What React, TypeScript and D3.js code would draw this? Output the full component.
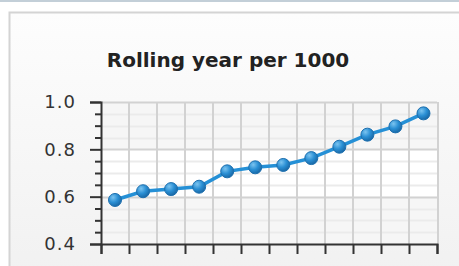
import React, { useRef, useEffect } from "react";
import * as d3 from "d3";

// values
const periods = ["1", "2", "3", "4", "5", "6", "7", "8", "9", "10", "11", "12"];
const values = [0.586, 0.623, 0.632, 0.642, 0.707, 0.724, 0.734, 0.763, 0.811, 0.862, 0.897, 0.952];
const yTicks = [0.4, 0.6, 0.8, 1.0];
const yMinorTicks = [0.45, 0.5, 0.55, 0.65, 0.7, 0.75, 0.85, 0.9, 0.95];
const title = "Rolling year per 1000";

function App() {
  const svgRef = useRef<SVGSVGElement>(null);

  useEffect(() => {
    const svg = d3.select(svgRef.current);
    svg.selectAll("*").remove();

    const width = 459;
    const height = 266;
    const margin = { top: 102, right: 22, bottom: 22, left: 101 };
    const plotW = width - margin.left - margin.right;
    const plotH = height - margin.top - margin.bottom;

    const defs = svg.append("defs");
    const bg = defs.append("linearGradient").attr("id", "panelBg").attr("x1", 0).attr("y1", 0).attr("x2", 0).attr("y2", 1);
    bg.append("stop").attr("offset", "0%").attr("stop-color", "#fdfdfd");
    bg.append("stop").attr("offset", "100%").attr("stop-color", "#f1f1f1");
    const dot = defs.append("radialGradient").attr("id", "dotFill").attr("cx", "35%").attr("cy", "30%").attr("r", "70%");
    dot.append("stop").attr("offset", "0%").attr("stop-color", "#7cc4f0");
    dot.append("stop").attr("offset", "55%").attr("stop-color", "#2a8fd4");
    dot.append("stop").attr("offset", "100%").attr("stop-color", "#1a6aa8");

    // page strip and panel
    svg.append("rect").attr("width", width).attr("height", height).attr("fill", "#ffffff");
    svg.append("rect").attr("width", width).attr("height", 2).attr("fill", "#c3cfd8");
    svg.append("rect")
      .attr("x", 9.5).attr("y", 12.5)
      .attr("width", width).attr("height", height)
      .attr("fill", "url(#panelBg)")
      .attr("stroke", "#d4d4d4").attr("stroke-width", 2);

    svg.append("text")
      .attr("x", 228).attr("y", 67)
      .attr("text-anchor", "middle")
      .attr("font-family", "DejaVu Sans, Verdana, sans-serif")
      .attr("font-weight", "bold")
      .attr("font-size", 20)
      .attr("fill", "#222")
      .text(title);

    const x = d3.scaleBand().domain(periods).range([0, plotW + 0.5]);
    const y = d3.scaleLinear().domain([0.4, 1.0]).range([plotH, 0]);

    const g = svg.append("g").attr("transform", `translate(${margin.left},${margin.top})`);

    // alternating bands
    g.selectAll("rect.band")
      .data([0.4, 0.6, 0.8])
      .enter()
      .append("rect")
      .attr("x", 0)
      .attr("y", (d) => y(d + 0.2))
      .attr("width", plotW)
      .attr("height", (d) => y(d) - y(d + 0.2))
      .attr("fill", (d, i) => (i % 2 === 0 ? "#f6f6f6" : "#ffffff"));

    // minor horizontal grid
    g.selectAll("line.minor")
      .data(yMinorTicks)
      .enter()
      .append("line")
      .attr("x1", 0).attr("x2", plotW)
      .attr("y1", (d) => Math.round(y(d)) + 0.5)
      .attr("y2", (d) => Math.round(y(d)) + 0.5)
      .attr("stroke", "#ebebeb").attr("stroke-width", 2);

    // major horizontal grid
    g.selectAll("line.major")
      .data(yTicks.slice(1))
      .enter()
      .append("line")
      .attr("x1", 0).attr("x2", plotW)
      .attr("y1", (d) => Math.round(y(d)) + 0.5)
      .attr("y2", (d) => Math.round(y(d)) + 0.5)
      .attr("stroke", "#d2d2d2").attr("stroke-width", 2);

    // vertical grid at band edges
    const edges = periods.map((p) => (x(p) as number) + x.bandwidth());
    g.selectAll("line.vgrid")
      .data(edges)
      .enter()
      .append("line")
      .attr("x1", (d) => Math.round(d)).attr("x2", (d) => Math.round(d))
      .attr("y1", 0).attr("y2", plotH)
      .attr("stroke", "#d2d2d2").attr("stroke-width", 2);

    // y axis
    const yAxis = d3.axisLeft(y).tickValues(yTicks).tickFormat(d3.format(".1f")).tickSize(11).tickPadding(14);
    const ya = g.append("g").call(yAxis);
    ya.select(".domain").attr("stroke", "#333").attr("stroke-width", 2);
    ya.selectAll(".tick line").attr("stroke", "#333").attr("stroke-width", 2);
    ya.selectAll("text")
      .attr("font-family", "DejaVu Sans, Verdana, sans-serif")
      .attr("font-size", 18)
      .attr("letter-spacing", 1)
      .attr("fill", "#333");

    const yMinorAxis = d3.axisLeft(y).tickValues(yMinorTicks).tickSize(6).tickFormat(() => "");
    const ym = g.append("g").call(yMinorAxis);
    ym.select(".domain").remove();
    ym.selectAll(".tick line").attr("stroke", "#333").attr("stroke-width", 2);

    // x axis: ticks on band edges
    const xEdge = d3.scaleLinear().domain([0, periods.length]).range([0, plotW]);
    const xAxis = d3.axisBottom(xEdge).ticks(periods.length).tickSize(10).tickFormat(() => "").tickSizeOuter(10);
    const xa = g.append("g").attr("transform", `translate(0,${plotH})`).call(xAxis);
    xa.select(".domain").attr("stroke", "#333").attr("stroke-width", 2);
    xa.selectAll(".tick line").attr("stroke", "#333").attr("stroke-width", 2);

    // line and markers
    const line = d3.line<number>()
      .x((d, i) => (x(periods[i]) as number) + x.bandwidth() / 2)
      .y((d) => y(d));

    g.append("path")
      .datum(values)
      .attr("d", line)
      .attr("fill", "none")
      .attr("stroke", "#2590d6")
      .attr("stroke-width", 3.5);

    g.selectAll("circle")
      .data(values)
      .enter()
      .append("circle")
      .attr("cx", (d, i) => (x(periods[i]) as number) + x.bandwidth() / 2)
      .attr("cy", (d) => y(d))
      .attr("r", 6.5)
      .attr("fill", "url(#dotFill)")
      .attr("stroke", "#1d6fae")
      .attr("stroke-width", 1);
  }, []);

  return (
    <svg
      ref={svgRef}
      width={459}
      height={266}
      style={{ position: "fixed", left: 0, top: 0, display: "block" }}
    />
  );
}

export default App;
